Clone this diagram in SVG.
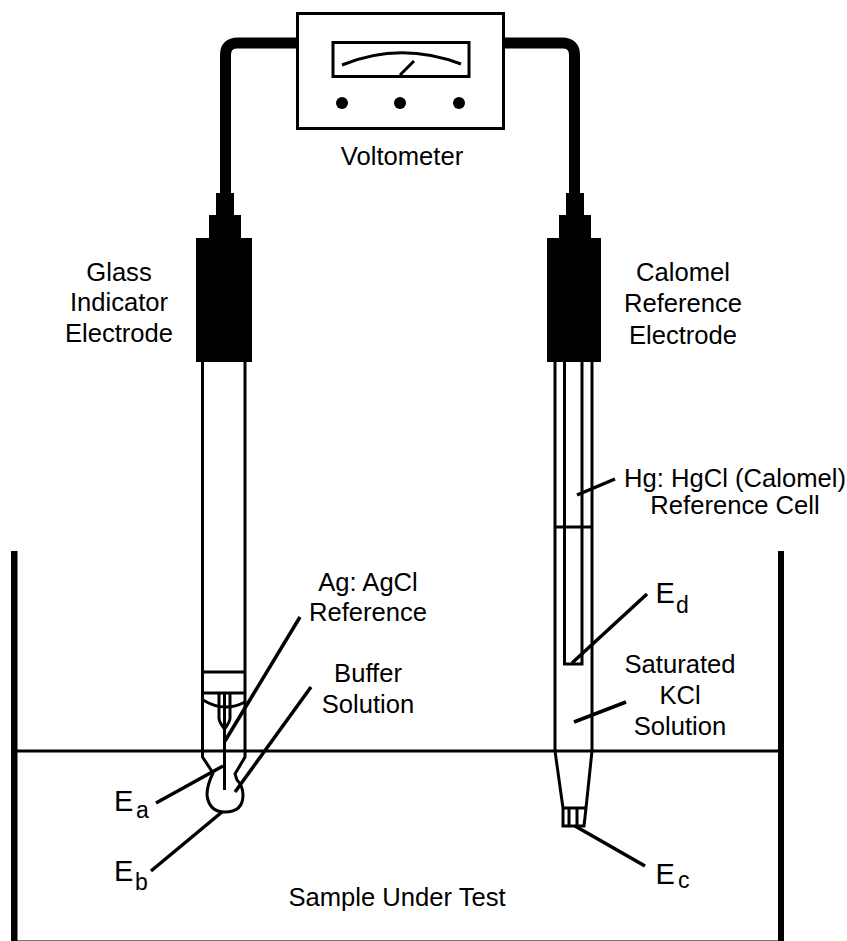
<svg xmlns="http://www.w3.org/2000/svg" width="847" height="941" viewBox="0 0 847 941">
<style>
.l{fill:none;stroke:#000;stroke-width:3;stroke-linejoin:miter}
.t{fill:none;stroke:#000;stroke-width:3.500}
.k{fill:#000;stroke:none}
.c{fill:none;stroke:#000;stroke-width:11;stroke-linejoin:round}
text{font-family:"Liberation Sans",Arial,sans-serif;font-size:25.600px;fill:#000;text-anchor:middle}
.s{font-size:23px;text-anchor:start}
.e{font-size:29px;text-anchor:start}
</style>
<rect width="847" height="941" fill="#fff"/>
<g id="connectors">
<path class="c" d="M297 43H238Q225.500 43 225.500 55V195"/>
<path class="c" d="M503 43H562Q574.500 43 574.500 55V195"/>
<path class="t" d="M300 617L225 741"/>
<path class="t" d="M311 687L235 792"/>
<path class="t" d="M156 803L223 766"/>
<path class="t" d="M151 871L222 812"/>
<path class="t" d="M615 479L577 495"/>
<path class="t" d="M647 594L572 663"/>
<path class="t" d="M626 702L574 722"/>
<path class="t" d="M575 826L645 866"/>
</g>
<g id="tank">
<path d="M11 940.500H778" fill="none" stroke="#777" stroke-width="1"/>
<path class="k" d="M11 551h6.500v390H11zM778 551h6v390h-6z"/>
<path class="l" d="M11 751H781"/>
</g>
<g id="voltometer">
<rect class="l" x="297.500" y="13.500" width="206" height="115" fill="#fff"/>
<rect class="l" x="333" y="42.500" width="136" height="34"/>
<path class="l" d="M342 65Q400 41 461 64"/>
<path class="l" d="M400 75L414 61"/>
<circle class="k" cx="342" cy="103" r="6"/>
<circle class="k" cx="400" cy="103" r="6"/>
<circle class="k" cx="459" cy="103" r="6"/>
<text x="402" y="165">Voltometer</text>
</g>
<g id="glass-electrode">
<path class="k" d="M220 170h11v23h3v22h7v23h11v124h-56V238h13v-23h7v-22h4z"/>
<path class="l" d="M202.500 362V757L213 773Q207 785 207 795Q209 812 225 812Q243 812 243 795Q243 786 237 780L235 774L245 757V362"/>
<path class="l" d="M202 672H245M202 693H245"/>
<path class="l" d="M203 700Q224 713 245 702" stroke-width="2"/>
<path class="l" d="M219 693V718Q219 722 224.500 729Q230 722 230 718V693"/>
<path class="l" d="M224.500 693V790"/>
<text x="119" y="281">Glass</text>
<text x="119" y="311">Indicator</text>
<text x="119" y="342">Electrode</text>
<text x="368" y="591">Ag: AgCl</text>
<text x="368" y="621">Reference</text>
<text x="368" y="682">Buffer</text>
<text x="368" y="713">Solution</text>
<text class="e" x="114" y="811">E</text><text class="s" x="136" y="818">a</text>
<text class="e" x="114" y="881">E</text><text class="s" x="135" y="890">b</text>
</g>
<g id="calomel-electrode">
<path class="k" d="M569 170h11v23h4v22h7v23h10v124h-54V238h12v-23h7v-22h3z"/>
<path class="l" d="M555 362V751L563 808V826H584L586 808L592 751V362"/>
<path class="l" d="M564.500 362V664H582V362"/>
<path class="l" d="M555 527H592"/>
<path class="l" d="M563 808H586M569 808V826M577 808V826"/>
<text x="683" y="281">Calomel</text>
<text x="683" y="312">Reference</text>
<text x="683" y="344">Electrode</text>
<text x="735" y="487">Hg: HgCl (Calomel)</text>
<text x="735" y="514">Reference Cell</text>
<text x="680" y="673">Saturated</text>
<text x="680" y="704">KCl</text>
<text x="680" y="735">Solution</text>
<text class="e" x="655.500" y="603">E</text><text class="s" x="676" y="613">d</text>
<text class="e" x="655.500" y="884">E</text><text class="s" x="678" y="888">c</text>
</g>
<g id="sample"><text x="397" y="906">Sample Under Test</text></g>
</svg>
